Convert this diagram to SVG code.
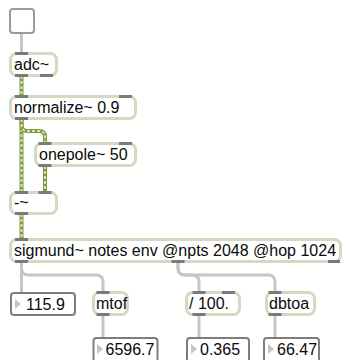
<svg xmlns="http://www.w3.org/2000/svg" width="343" height="360" viewBox="0 0 343 360">
<defs>
<style>
.obj{fill:#fff;stroke:#d4d9c2;stroke-width:3}
.num{fill:#fff;stroke:#7d7d7d;stroke-width:2}
.tog{fill:#fff;stroke:#9a9a9a;stroke-width:2}
.io{fill:#7a7a7a}
.t{font-family:"Liberation Sans",Arial,sans-serif;font-size:16px;fill:#0a0a0a}
.tri{fill:#c4c4c4}
.cc{fill:none;stroke:#c6c6c6;stroke-width:3}
.sa{fill:none;stroke:#7b9843;stroke-width:4}
.sb{fill:none;stroke:#dce59f;stroke-width:2;stroke-dasharray:3 2}
</style>
</defs>
<g id="connectors">
<path class="cc" d="M21.5,33 L21.5,53"/>
<path class="sa" d="M21.5,76 L21.5,96"/><path class="sb" d="M21.5,76 L21.5,96"/>
<path class="sa" d="M21.5,119 L21.5,192"/><path class="sb" d="M21.5,119 L21.5,192"/>
<path class="sa" d="M21.5,119 L21.5,125 Q21.5,131 27.5,131 L39,131 Q45,131 45,137 L45,143"/>
<path class="sb" d="M21.5,119 L21.5,125 Q21.5,131 27.5,131 L39,131 Q45,131 45,137 L45,143"/>
<path class="sa" d="M45,166 L45,192"/><path class="sb" d="M45,166 L45,192"/>
<path class="sa" d="M21.5,214 L21.5,239"/><path class="sb" d="M21.5,214 L21.5,239"/>
<path class="cc" d="M21.5,262 L21.5,293"/>
<path class="cc" d="M21.5,262 L21.5,268 Q21.5,275 28.5,275 L96,275 Q103,275 103,282 L103,292"/>
<path class="cc" d="M178,262 L178,268 Q178,275 185,275 L192,275 Q199,275 199,282 L199,292"/>
<path class="cc" d="M178,262 L178,268 Q178,275 185,275 L268,275 Q275,275 275,282 L275,292"/>
<path class="cc" d="M103,315 L103,338"/>
<path class="cc" d="M199,315 L199,338"/>
<path class="cc" d="M275,315 L275,338"/>
</g>
<g id="toggle"><rect class="tog" x="10" y="9" width="24" height="24" rx="3"/></g>
<g id="adc">
<rect class="obj" x="10.5" y="53.5" width="46" height="22" rx="6"/>
<rect class="io" x="15" y="52" width="13" height="3"/>
<rect class="io" x="15" y="74" width="13" height="3"/>
<rect class="io" x="40" y="74" width="13" height="3"/>
<text class="t" x="14" y="70">adc~</text>
</g>
<g id="normalize">
<rect class="obj" x="10.5" y="96.5" width="125" height="22" rx="6"/>
<rect class="io" x="15" y="95" width="13" height="3"/>
<rect class="io" x="119" y="95" width="13" height="3"/>
<rect class="io" x="15" y="117" width="13" height="3"/>
<text class="t" x="14" y="113">normalize~ 0.9</text>
</g>
<g id="onepole">
<rect class="obj" x="35.5" y="143.5" width="100" height="22" rx="6"/>
<rect class="io" x="38.5" y="142" width="13" height="3"/>
<rect class="io" x="119" y="142" width="13" height="3"/>
<rect class="io" x="38.5" y="164" width="13" height="3"/>
<text class="t" x="39" y="160">onepole~ 50</text>
</g>
<g id="minus">
<rect class="obj" x="10.5" y="192.5" width="46" height="21" rx="6"/>
<rect class="io" x="15" y="191" width="13" height="3"/>
<rect class="io" x="38.5" y="191" width="13" height="3"/>
<rect class="io" x="15" y="212" width="13" height="3"/>
<text class="t" x="14" y="208">-~</text>
</g>
<g id="sigmund">
<rect class="obj" x="10.5" y="239.5" width="330" height="22" rx="6"/>
<rect class="io" x="15" y="238" width="13" height="3"/>
<rect class="io" x="15" y="260" width="13" height="3"/>
<rect class="io" x="171.5" y="260" width="13" height="3"/>
<rect class="io" x="328" y="260" width="12" height="3"/>
<text class="t" x="14" y="256">sigmund~ notes env @npts 2048 @hop 1024</text>
</g>
<g id="num1">
<rect class="num" x="11" y="293" width="64" height="22" rx="3"/>
<path class="tri" d="M15,299 L21,304 L15,309 Z"/>
<text class="t" x="26" y="310">115.9</text>
</g>
<g id="mtof">
<rect class="obj" x="93.5" y="292.5" width="34" height="22" rx="6"/>
<rect class="io" x="96.5" y="291" width="13" height="3"/>
<rect class="io" x="96.5" y="313" width="13" height="3"/>
<text class="t" x="96" y="309">mtof</text>
</g>
<g id="div">
<rect class="obj" x="186.5" y="292.5" width="53" height="22" rx="6"/>
<rect class="io" x="192.5" y="291" width="13" height="3"/>
<rect class="io" x="222" y="291" width="13" height="3"/>
<rect class="io" x="192.5" y="313" width="13" height="3"/>
<text class="t" x="189" y="309">/ 100.</text>
</g>
<g id="dbtoa">
<rect class="obj" x="266.5" y="292.5" width="48" height="22" rx="6"/>
<rect class="io" x="268.5" y="291" width="13" height="3"/>
<rect class="io" x="268.5" y="313" width="13" height="3"/>
<text class="t" x="269" y="309">dbtoa</text>
</g>
<g id="num2">
<rect class="num" x="93.5" y="338" width="64" height="24" rx="3"/>
<path class="tri" d="M97,344 L103,349 L97,354 Z"/>
<text class="t" x="105.5" y="355">6596.7</text>
</g>
<g id="num3">
<rect class="num" x="187" y="338" width="62" height="24" rx="3"/>
<path class="tri" d="M191,344 L197,349 L191,354 Z"/>
<text class="t" x="200" y="355">0.365</text>
</g>
<g id="num4">
<rect class="num" x="264" y="338" width="55" height="24" rx="3"/>
<path class="tri" d="M268,344 L274,349 L268,354 Z"/>
<text class="t" x="277" y="355">66.47</text>
</g>
</svg>
